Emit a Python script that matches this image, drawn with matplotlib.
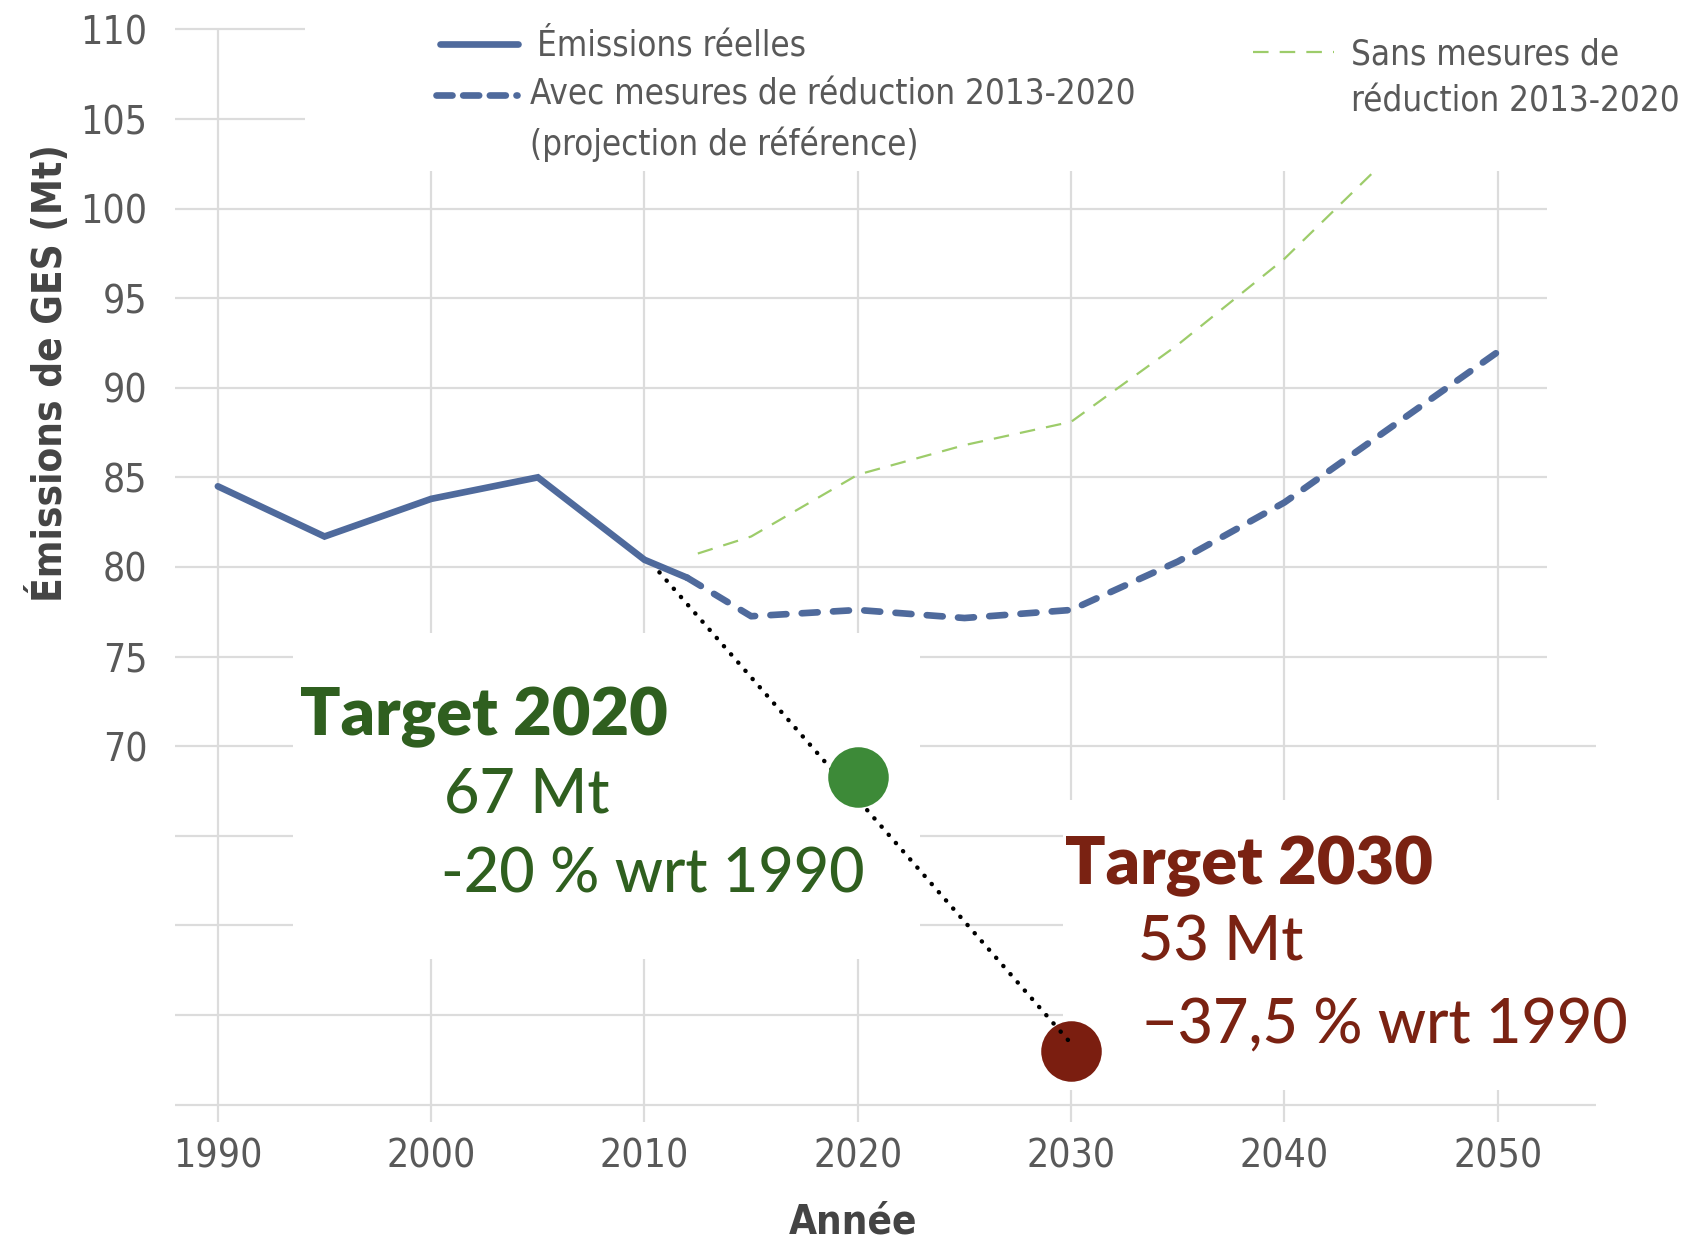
import matplotlib; matplotlib.use("Agg")
import matplotlib.pyplot as plt
from matplotlib.patches import Rectangle

# data
years_real = [1990, 1995, 2000, 2005, 2010, 2012]
emis_real = [84.5, 81.7, 83.8, 85.0, 80.4, 79.4]
years_wm = [2012, 2015, 2020, 2025, 2030, 2035, 2040, 2045, 2050]
emis_wm = [79.4, 77.25, 77.6, 77.15, 77.6, 80.3, 83.6, 87.8, 92.0]
years_wom = [2012.5, 2015, 2020, 2025, 2030, 2035, 2040, 2045]
emis_wom = [80.75, 81.7, 85.15, 86.8, 88.1, 92.4, 97.2, 103.0]
path_years = [2010.7, 2030]
path_vals = [79.7, 53.4]
target_years = [2020, 2030]
target_vals = [68.3, 53.0]
xticks = [1990, 2000, 2010, 2020, 2030, 2040, 2050]
yticks = [70, 75, 80, 85, 90, 95, 100, 105, 110]
grid_y = [50, 55, 60, 65, 70, 75, 80, 85, 90, 95, 100, 105, 110]

NARROW = ["DejaVu Sans"]
TXT = "#595959"; GRID = "#dcdcdc"; BLUE = "#4f6a9c"; LGREEN = "#9dcc6a"
DGREEN = "#2f5f1f"; DOTG = "#3d8a38"; DRED = "#7a2212"; DOTR = "#7b1e10"

fig = plt.figure(figsize=(17.08, 12.43), dpi=100)
ax = fig.add_axes([0.10258, 0.11142, 0.83677, 0.86492])
ax.set_xlim(1988, 2055); ax.set_ylim(50, 110)
for s in ax.spines.values(): s.set_visible(False)

# grid, then white panels cutting it where the legend / notes sit
for y in grid_y:
    xe = 2054.6 if y in (50, 70) else 2052.3
    ax.hlines(y, 1988, xe, color=GRID, lw=1.6, zorder=1, clip_on=False)
for x in xticks:
    ax.vlines(x, 49, 110, color=GRID, lw=1.6, zorder=1, clip_on=False)
for (x0, y0, w, h) in [(1994.1, 102.1, 70, 12), (1993.5, 58.1, 29.4, 18.2), (2029.6, 50.8, 30, 16.2)]:
    ax.add_patch(Rectangle((x0, y0), w, h, facecolor="white", edgecolor="none", zorder=4, clip_on=False))

ax.plot(years_wom, emis_wom, color=LGREEN, lw=1.6, dashes=(7, 5), zorder=3)
ax.plot(years_wm, emis_wm, color=BLUE, lw=4.8, dashes=(2.4, 2.3), dash_capstyle="round", zorder=5)
ax.plot(years_real, emis_real, color=BLUE, lw=4.8, solid_capstyle="round", solid_joinstyle="miter", zorder=6)
ax.scatter(target_years[1:], target_vals[1:], s=1900, color=DOTR, zorder=6, lw=0)
ax.plot(path_years, path_vals, color="black", lw=3.2, ls=(0, (0.05, 2.4)), dash_capstyle="round", zorder=7)
ax.scatter(target_years[:1], target_vals[:1], s=1900, color=DOTG, zorder=8, lw=0)

ax.set_xticks(xticks); ax.set_yticks(yticks)
ax.tick_params(length=0, labelcolor=TXT, labelsize=28)
ax.tick_params(axis="y", pad=20)
ax.tick_params(axis="x", pad=24)
for lab in ax.get_xticklabels() + ax.get_yticklabels():
    lab.set_family(NARROW); lab.set_stretch("condensed")

fig.text(49/1708, 1-373/1243, "Émissions de GES (Mt)", rotation=90, ha="center", va="center",
         family=NARROW, stretch="condensed", weight="bold", fontsize=29, color="#444444")
fig.text(853/1708, 1-1222/1243, "Année", ha="center", va="center",
         family=NARROW, stretch="condensed", weight="bold", fontsize=29, color="#444444")

# legend drawn by hand
def handle(x0, x1, y, **kw):
    fig.add_artist(plt.Line2D([x0/1708, x1/1708], [1-y/1243, 1-y/1243], transform=fig.transFigure, **kw))
handle(440, 518, 43.6, color=BLUE, lw=4.8, solid_capstyle="round")
handle(436, 517, 94.8, color=BLUE, lw=4.8, dashes=(2.4, 1.6), dash_capstyle="round")
handle(1253, 1334, 52.3, color=LGREEN, lw=1.6, dashes=(7, 5))
lt = dict(family=NARROW, stretch="condensed", fontsize=25, color=TXT, ha="left", va="center")
fig.text(537/1708, 1-45.7/1243, "Émissions réelles", **lt)
fig.text(530/1708, 1-94.8/1243, "Avec mesures de réduction 2013-2020", **lt)
fig.text(530/1708, 1-143.8/1243, "(projection de référence)", **lt)
fig.text(1351/1708, 1-54.5/1243, "Sans mesures de", **lt)
fig.text(1351/1708, 1-101.3/1243, "réduction 2013-2020", **lt)

# target notes
tb = dict(family=["Lato", "DejaVu Sans"], ha="left", va="center")
fig.text(300/1708, 1-717/1243, "Target 2020", color=DGREEN, fontsize=48, weight="heavy", **tb)
fig.text(444/1708, 1-795/1243, "67 Mt", color=DGREEN, fontsize=44, weight="medium", **tb)
fig.text(441/1708, 1-875/1243, "-20 % wrt 1990", color=DGREEN, fontsize=44, weight="medium", **tb)
fig.text(1065/1708, 1-866/1243, "Target 2030", color=DRED, fontsize=48, weight="heavy", **tb)
fig.text(1138/1708, 1-943/1243, "53 Mt", color=DRED, fontsize=44, weight="medium", **tb)
fig.text(1142/1708, 1-1026/1243, "\u221237,5 % wrt 1990", color=DRED, fontsize=44, weight="medium", **tb)

fig.savefig("out.png", dpi=100)
